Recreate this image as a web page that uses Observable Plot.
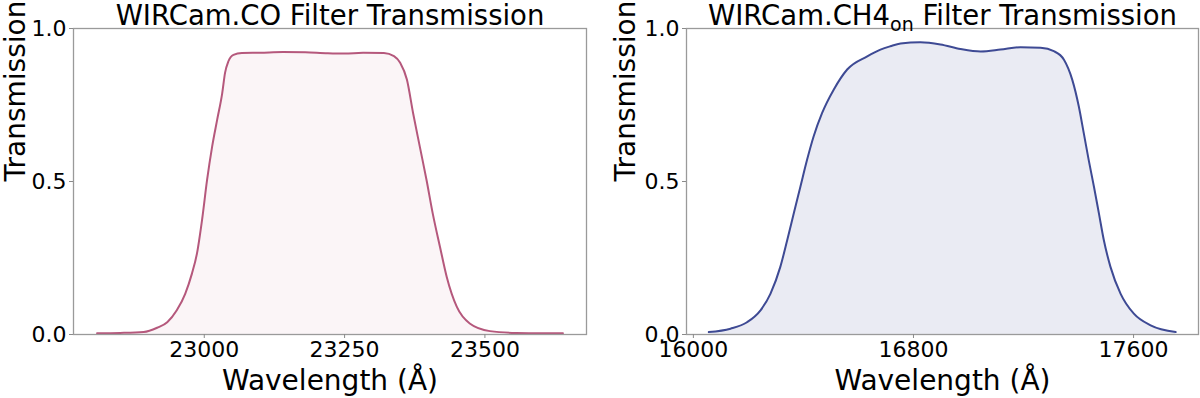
<!DOCTYPE html>
<html>
<head>
<meta charset="utf-8">
<script src="https://cdn.jsdelivr.net/npm/d3@7"></script>
<script src="https://cdn.jsdelivr.net/npm/@observablehq/plot@0.6"></script>
<style>
  html, body { margin: 0; padding: 0; background: #fff; }
  #wrap { display: flex; width: 1200px; height: 398px; }
  #wrap > div { width: 600px; height: 398px; }
  svg { overflow: visible; }
</style>
</head>
<body>
<div id="wrap"><div id="left"></div><div id="right"></div></div>
<script>
// WIRCam.CO filter
const coWavelength = [22809, 22850, 22892, 22916, 22934, 22951, 22966, 22978, 22987, 22996, 23005, 23014, 23023, 23032, 23037, 23043, 23052, 23067, 23100, 23140, 23180, 23220, 23250, 23283, 23320, 23338, 23349, 23361, 23372, 23384, 23396, 23407, 23420, 23432, 23450, 23473, 23509, 23556, 23600, 23639];
const coTransmission = [0.004, 0.005, 0.008, 0.022, 0.04, 0.079, 0.133, 0.199, 0.265, 0.374, 0.505, 0.614, 0.702, 0.789, 0.855, 0.893, 0.914, 0.92, 0.921, 0.923, 0.922, 0.919, 0.918, 0.921, 0.92, 0.91, 0.888, 0.833, 0.724, 0.614, 0.505, 0.396, 0.286, 0.188, 0.09, 0.036, 0.011, 0.005, 0.004, 0.004];
// WIRCam.CH4on filter
const ch4Wavelength = [16056, 16135, 16195, 16244, 16280, 16316, 16341, 16365, 16389, 16413, 16437, 16468, 16510, 16559, 16632, 16680, 16716, 16753, 16825, 16898, 16971, 17044, 17116, 17189, 17262, 17310, 17347, 17377, 17401, 17419, 17437, 17456, 17474, 17492, 17516, 17553, 17601, 17662, 17753];
const ch4Transmission = [0.008, 0.019, 0.04, 0.079, 0.133, 0.221, 0.308, 0.396, 0.483, 0.57, 0.647, 0.724, 0.8, 0.866, 0.909, 0.931, 0.942, 0.951, 0.955, 0.948, 0.933, 0.925, 0.931, 0.939, 0.937, 0.926, 0.898, 0.833, 0.745, 0.658, 0.57, 0.483, 0.396, 0.308, 0.221, 0.133, 0.068, 0.03, 0.008];

const coTicks = [23000, 23250, 23500];
const ch4Ticks = [16000, 16800, 17600];
const yTicks = [0, 0.5, 1.0];

const FONT = "DejaVu Sans";

function panel({w, t, ticks, xDomain, color, fillOpacity, title, ml, mr, ylabDx}) {
  const data = w.map((x, i) => ({x, y: t[i]}));
  return Plot.plot({
    width: 600,
    height: 398,
    marginLeft: ml,
    marginRight: mr,
    marginTop: 28,
    marginBottom: 64,
    style: {fontFamily: FONT, background: "transparent", overflow: "visible"},
    x: {domain: xDomain, ticks: ticks, tickFormat: d3.format("d")},
    y: {domain: [0, 1], ticks: yTicks, tickFormat: d3.format(".1f")},
    marks: [
      Plot.areaY(data, {x: "x", y: "y", fill: color, fillOpacity: fillOpacity, curve: "monotone-x"}),
      Plot.lineY(data, {x: "x", y: "y", stroke: color, strokeWidth: 2, curve: "monotone-x"}),
      Plot.frame({stroke: "#9a9a9a", strokeWidth: 1.3}),
      Plot.axisX({ticks: ticks, tickFormat: d3.format("d"), tickSize: 4, stroke: "#8a8a8a", fill: "#000", fontSize: 22, tickPadding: 3, label: null}),
      Plot.axisY({ticks: yTicks, tickFormat: d3.format(".1f"), tickSize: 4, stroke: "#8a8a8a", fill: "#000", fontSize: 22, tickPadding: 3, label: null}),
      Plot.text([title], {frameAnchor: "top", text: d => d, dy: -12.5, lineAnchor: "middle", fontSize: 27.5, fill: "#000"}),
      Plot.text(["Wavelength (Å)"], {frameAnchor: "bottom", text: d => d, dy: 47, lineAnchor: "middle", fontSize: 28, fill: "#000"}),
      Plot.text(["Transmission"], {frameAnchor: "left", text: d => d, dx: ylabDx, rotate: -90, lineAnchor: "middle", fontSize: 28, fill: "#000"})
    ]
  });
}

const left = panel({
  w: coWavelength, t: coTransmission, ticks: coTicks,
  xDomain: [22767, 23681], color: "#b5587c", fillOpacity: 0.06,
  title: "WIRCam.CO Filter Transmission", ml: 73, mr: 14, ylabDx: -57
});
const right = panel({
  w: ch4Wavelength, t: ch4Transmission, ticks: ch4Ticks,
  xDomain: [15975, 17836], color: "#3e4a94", fillOpacity: 0.11,
  title: "WIRCam.CH4on Filter Transmission", ml: 86, mr: 2, ylabDx: -60
});
document.getElementById("left").appendChild(left);
document.getElementById("right").appendChild(right);

// subscript "on" in the CH4 title
right.querySelectorAll("text").forEach(el => {
  if (el.textContent === "WIRCam.CH4on Filter Transmission") {
    el.innerHTML = 'WIRCam.CH4<tspan dy="6" font-size="19">on</tspan><tspan dy="-6"> Filter Transmission</tspan>';
  }
});
</script>
</body>
</html>
